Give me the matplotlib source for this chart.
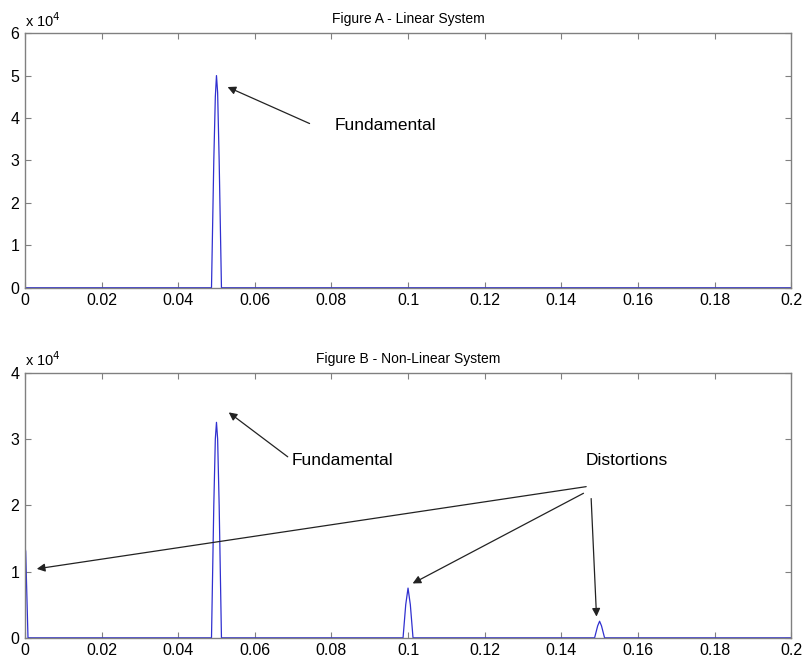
import matplotlib.pyplot as plt
from matplotlib.ticker import FuncFormatter, MultipleLocator

plt.rcParams['font.family'] = ['Liberation Sans', 'DejaVu Sans']

# spectrum of the linear system (frequency, magnitude)
freq_a = [0.0, 0.0487, 0.0493, 0.0497, 0.0500, 0.0503, 0.0507, 0.0513, 0.2]
mag_a = [0, 0, 30000, 45000, 50000, 46000, 30000, 0, 0]

# spectrum of the non-linear system
freq_b = [0.0, 0.0002, 0.0008, 0.0487, 0.0493, 0.0497, 0.0500, 0.0503, 0.0507, 0.0513,
          0.0987, 0.0994, 0.1000, 0.1006, 0.1013, 0.1487, 0.1495, 0.1500, 0.1505, 0.1513, 0.2]
mag_b = [13800, 13000, 0, 0, 20000, 30000, 32500, 30000, 20000, 0,
         0, 5000, 7500, 5000, 0, 0, 1800, 2500, 1800, 0, 0]

y_max = [60000, 40000]
titles = ['Figure A - Linear System', 'Figure B - Non-Linear System']

fig = plt.figure(figsize=(8.04, 6.63), dpi=100)
ax_a = fig.add_axes([0.031, 0.566, 0.953, 0.384])
ax_b = fig.add_axes([0.031, 0.038, 0.953, 0.400])

for ax, fx, my, ym, title in zip([ax_a, ax_b], [freq_a, freq_b], [mag_a, mag_b], y_max, titles):
    ax.plot(fx, my, color='#3030d0', lw=0.9)
    ax.set_xlim(0, 0.2)
    ax.set_ylim(0, ym)
    ax.xaxis.set_major_locator(MultipleLocator(0.02))
    ax.yaxis.set_major_locator(MultipleLocator(10000))
    ax.xaxis.set_major_formatter(FuncFormatter(lambda v, p: f'{v:g}'))
    ax.yaxis.set_major_formatter(FuncFormatter(lambda v, p: f'{v / 1e4:g}'))
    ax.tick_params(direction='in', top=True, right=True, length=4, width=0.8,
                   color='#808080', labelsize=11.5, pad=4)
    for s in ax.spines.values():
        s.set_color('#808080')
        s.set_linewidth(1.0)
    ax.set_title(title, fontsize=10, pad=7)
    ax.text(0.0, 1.012, r'x 10$^4$', transform=ax.transAxes, fontsize=10.5,
            ha='left', va='bottom')

arrow = dict(arrowstyle='-|>', color='#222222', lw=0.9, mutation_scale=12,
             shrinkA=0, shrinkB=0)

ax_a.text(0.0808, 38200, 'Fundamental', fontsize=12.5, va='center')
ax_a.annotate('', xy=(0.0529, 47300), xytext=(0.0743, 38700), arrowprops=arrow)

ax_b.text(0.0696, 26700, 'Fundamental', fontsize=12.5, va='center')
ax_b.annotate('', xy=(0.0532, 34000), xytext=(0.0686, 27300), arrowprops=arrow)

ax_b.text(0.1463, 26700, 'Distortions', fontsize=12.5, va='center')
ax_b.annotate('', xy=(0.0031, 10400), xytext=(0.1465, 22800), arrowprops=arrow)
ax_b.annotate('', xy=(0.1012, 8200), xytext=(0.1458, 21800), arrowprops=arrow)
ax_b.annotate('', xy=(0.1492, 3200), xytext=(0.1478, 21000), arrowprops=arrow)

fig.savefig('out.png', dpi=100)
